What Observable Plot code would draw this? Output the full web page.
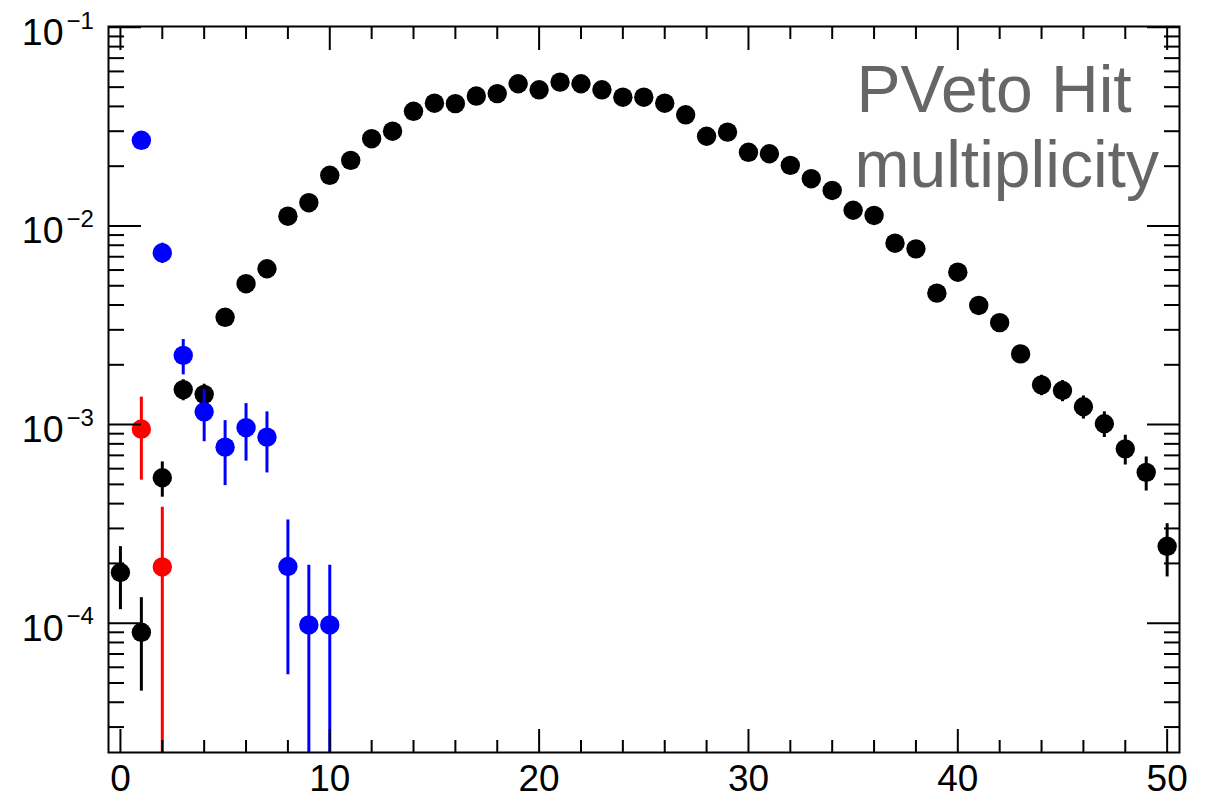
<!DOCTYPE html>
<html><head><meta charset="utf-8">
<script src="https://cdn.jsdelivr.net/npm/d3@7"></script>
<script src="https://cdn.jsdelivr.net/npm/@observablehq/plot@0.6"></script>
<style>body{margin:0;background:#fff;overflow:hidden}</style>
</head><body><div id="chart"></div>
<script>
// Hit multiplicity (x) for three samples
const blackX = [0,1,2,3,4,5,6,7,8,9,10,11,12,13,14,15,16,17,18,19,20,21,22,23,24,25,26,27,28,29,30,31,32,33,34,35,36,37,38,39,40,41,42,43,44,45,46,47,48,49,50];
const blackY = [1.8e-4,9.0e-5,5.4e-4,1.5e-3,1.42e-3,3.47e-3,5.12e-3,6.09e-3,1.12e-2,1.31e-2,1.80e-2,2.14e-2,2.75e-2,3.0e-2,3.78e-2,4.15e-2,4.13e-2,4.51e-2,4.64e-2,5.20e-2,4.85e-2,5.30e-2,5.20e-2,4.85e-2,4.45e-2,4.45e-2,4.15e-2,3.63e-2,2.83e-2,2.97e-2,2.35e-2,2.31e-2,2.02e-2,1.73e-2,1.51e-2,1.20e-2,1.13e-2,8.19e-3,7.67e-3,4.59e-3,5.85e-3,3.98e-3,3.26e-3,2.27e-3,1.585e-3,1.485e-3,1.23e-3,1.01e-3,7.55e-4,5.75e-4,2.44e-4];
const blackErr = [6.3e-5,4.45e-5,1.09e-4,1.82e-4,1.77e-4,2.76e-4,3.36e-4,3.66e-4,4.96e-4,5.37e-4,6.29e-4,6.86e-4,7.78e-4,8.12e-4,9.12e-4,9.55e-4,9.53e-4,9.96e-4,1.01e-3,1.07e-3,1.03e-3,1.08e-3,1.07e-3,1.03e-3,9.9e-4,9.9e-4,9.55e-4,8.94e-4,7.89e-4,8.08e-4,7.19e-4,7.13e-4,6.67e-4,6.17e-4,5.76e-4,5.14e-4,4.99e-4,4.24e-4,4.11e-4,3.18e-4,3.59e-4,2.96e-4,2.68e-4,2.23e-4,1.87e-4,1.81e-4,1.64e-4,1.49e-4,1.29e-4,1.12e-4,7.3e-5];

const blueX = [1,2,3,4,5,6,7,8,9,10];
const blueY = [2.70e-2,7.33e-3,2.23e-3,1.16e-3,7.7e-4,9.65e-4,8.65e-4,1.93e-4,9.8e-5,9.8e-5];
const blueErr = [1.64e-3,8.6e-4,4.5e-4,3.4e-4,2.77e-4,3.1e-4,2.94e-4,1.38e-4,9.8e-5,9.8e-5];

const redX = [1,2];
const redY = [9.5e-4,1.92e-4];
const redErr = [4.25e-4,1.92e-4];

const xMajor = [0,10,20,30,40,50];
const xMinor = [2,4,6,8,12,14,16,18,22,24,26,28,32,34,36,38,42,44,46,48];
const yMajor = [1e-4,1e-3,1e-2,1e-1];
const yMinor = [];
for (const e of [-5,-4,-3,-2]) for (let m = 2; m <= 9; m++) { const v = m * Math.pow(10, e); if (v > 2.3e-5) yMinor.push(v); }

const label1 = "PVeto Hit";
const label2 = "multiplicity";

const colors = {black: "#000000", blue: "#0000ff", red: "#ff0000"};
const FLOOR = 1e-7;
function rows(series, xs, ys, es) {
  return xs.map((x, i) => ({series, x, y: ys[i], lo: Math.max(ys[i] - es[i], FLOOR), hi: ys[i] + es[i]}));
}
const black = rows("black", blackX, blackY, blackErr);
const blue = rows("blue", blueX, blueY, blueErr);
const red = rows("red", redX, redY, redErr);

function seriesMarks(data, color) {
  return [
    Plot.ruleX(data, {x: "x", y1: "lo", y2: "hi", stroke: color, strokeWidth: 3, clip: true}),
    Plot.dot(data, {x: "x", y: "y", r: 9.7, fill: color, stroke: null, clip: true})
  ];
}

const blank = () => "";
const chart = Plot.plot({
  width: 1210, height: 798,
  marginLeft: 108, marginRight: 31, marginTop: 26, marginBottom: 46,
  x: {domain: [-0.57, 50.59]},
  y: {type: "log", domain: [2.234e-5, 0.101]},
  style: {fontFamily: "'Liberation Sans', Arial, Helvetica, sans-serif", background: "white", color: "black"},
  marks: [
    ...seriesMarks(black, colors.black),
    ...seriesMarks(red, colors.red),
    ...seriesMarks(blue, colors.blue),
    Plot.axisX({anchor: "bottom", ticks: xMajor, tickSize: -23, tickFormat: blank, label: null, strokeWidth: 2}),
    Plot.axisX({anchor: "bottom", ticks: xMinor, tickSize: -12, tickFormat: blank, label: null, strokeWidth: 2}),
    Plot.axisX({anchor: "top", ticks: xMajor, tickSize: -23, tickFormat: blank, label: null, strokeWidth: 2}),
    Plot.axisX({anchor: "top", ticks: xMinor, tickSize: -12, tickFormat: blank, label: null, strokeWidth: 2}),
    Plot.axisY({anchor: "left", ticks: yMajor, tickSize: -33, tickFormat: blank, label: null, strokeWidth: 2}),
    Plot.axisY({anchor: "left", ticks: yMinor, tickSize: -16, tickFormat: blank, label: null, strokeWidth: 2}),
    Plot.axisY({anchor: "right", ticks: yMajor, tickSize: -33, tickFormat: blank, label: null, strokeWidth: 2}),
    Plot.axisY({anchor: "right", ticks: yMinor, tickSize: -16, tickFormat: blank, label: null, strokeWidth: 2}),
    Plot.frame({stroke: "black", strokeWidth: 2}),
    Plot.text(xMajor, {x: d => d, frameAnchor: "bottom", dy: 38, lineAnchor: "bottom", text: d => String(d), fontSize: 37, fill: "black"}),
    Plot.text(yMajor, {y: d => d, frameAnchor: "left", dx: -45, dy: 5.5, textAnchor: "end", lineAnchor: "middle", text: () => "10", fontSize: 37.5, fill: "black"}),
    Plot.text(yMajor, {y: d => d, frameAnchor: "left", dx: -42, dy: -6.5, textAnchor: "start", lineAnchor: "middle", text: d => "\u2212" + Math.round(-Math.log10(d)), fontSize: 24, fill: "black"}),
    Plot.text([label1], {frameAnchor: "top-right", dx: -323, dy: 85, textAnchor: "start", lineAnchor: "bottom", fontSize: 66, fill: "#666666", text: d => d}),
    Plot.text([label2], {frameAnchor: "top-right", dx: -325, dy: 160, textAnchor: "start", lineAnchor: "bottom", fontSize: 66, fill: "#666666", text: d => d})
  ]
});
document.getElementById("chart").append(chart);
</script>
</body></html>
